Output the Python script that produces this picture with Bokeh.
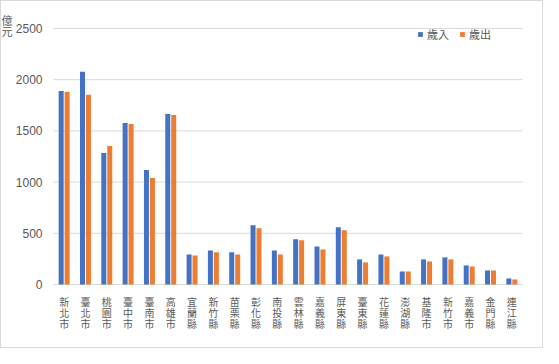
import numpy as np
from bokeh.plotting import figure
from bokeh.models import Legend, LegendItem, Range1d
from bokeh.core.properties import value
from bokeh.embed import file_html
from bokeh.resources import INLINE

categories = ["新北市", "臺北市", "桃園市", "臺中市", "臺南市", "高雄市", "宜蘭縣", "新竹縣",
              "苗栗縣", "彰化縣", "南投縣", "雲林縣", "嘉義縣", "屏東縣", "臺東縣", "花蓮縣",
              "澎湖縣", "基隆市", "新竹市", "嘉義市", "金門縣", "連江縣"]
revenue = [1889, 2078, 1284, 1578, 1117, 1666, 294, 333, 314, 578, 333,
           441, 372, 559, 245, 294, 127, 245, 265, 186, 137, 59]
expenditure = [1882, 1852, 1352, 1568, 1039, 1656, 284, 314, 294, 549, 294,
               431, 343, 529, 216, 274, 127, 225, 245, 176, 137, 49]
y_ticks = [0, 500, 1000, 1500, 2000, 2500]
series_names = ["歲入", "歲出"]
y_unit = "億元"

n = len(categories)
idx = np.arange(n)

CJK = "Noto Sans CJK TC"
GREY = "#595959"
GRID = "#d9d9d9"

W, H = 543, 348
# plot area: left 52px, right 22px, top 27px, bottom 65px inside the canvas
px_cat = (W - 52 - 22) / n
px_val = (H - 27 - 65) / (y_ticks[-1] - y_ticks[0])
x_range = Range1d(-0.5 - 52 / px_cat, n - 0.5 + 22 / px_cat)
y_range = Range1d(-65 / px_val, y_ticks[-1] + 27 / px_val)

p = figure(x_range=x_range, y_range=y_range, width=W, height=H,
           output_backend="svg", toolbar_location=None,
           x_axis_location=None, y_axis_location=None,
           min_border=0, styles={"border": "1px solid #d9d9d9"})
p.outline_line_color = None
p.grid.visible = False

# horizontal gridlines
p.segment(x0=-0.5, x1=n - 0.5, y0=y_ticks, y1=y_ticks, line_color=GRID, line_width=1)

r1 = p.vbar(x=idx - 0.14, top=revenue, width=0.235, fill_color="#4472C4", line_color=None)
r2 = p.vbar(x=idx + 0.14, top=expenditure, width=0.235, fill_color="#ED7D31", line_color=None)

# y tick labels
p.text(x=[-0.5] * len(y_ticks), y=y_ticks, text=[str(t) for t in y_ticks],
       x_offset=-11, text_align="right", text_baseline="middle",
       text_font=value("Liberation Sans"), text_font_size="12px", text_color=GREY)

# x category labels, stacked vertically one character per row
for i in range(3):
    p.text(x=idx, y=[0] * n, text=[c[i] for c in categories],
           y_offset=17 + i * 11, text_align="center", text_baseline="middle",
           text_font=value(CJK), text_font_size="10px", text_color=GREY)

# unit label, stacked vertically
for i, ch in enumerate(y_unit):
    p.text(x=[-0.5], y=[y_ticks[-1]], text=[ch], x_offset=-46.5, y_offset=-9 + i * 11,
           text_align="center", text_baseline="middle",
           text_font=value(CJK), text_font_size="11px", text_color=GREY)

legend = Legend(items=[LegendItem(label=series_names[0], renderers=[r1]),
                       LegendItem(label=series_names[1], renderers=[r2])],
                location=(416, 307), orientation="horizontal", padding=0, margin=0,
                spacing=10, glyph_width=6, glyph_height=6, label_height=16,
                label_standoff=4, label_text_font=CJK, label_text_font_size="11px",
                label_text_color=GREY, border_line_color=None, background_fill_alpha=0)
p.add_layout(legend)

open("out.html", "w").write(file_html(p, INLINE))
